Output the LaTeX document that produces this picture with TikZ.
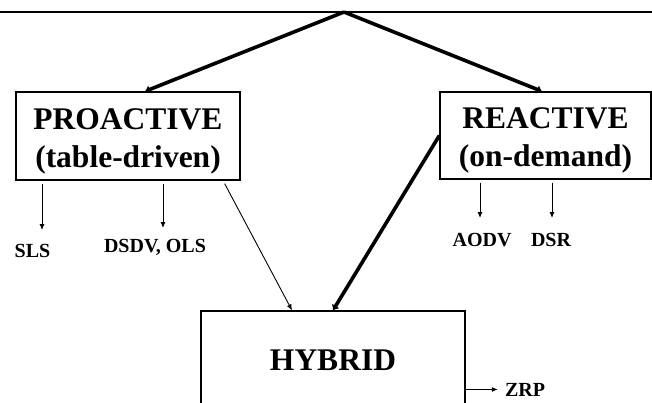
\documentclass[tikz,border=0pt]{standalone}
\usepackage{fontspec}
\setmainfont{Liberation Serif}
\usetikzlibrary{arrows.meta}
\tikzset{
	box/.style={
		draw,
		rectangle,
		align=center,
		line width=1.3pt,
		inner sep=0pt,
		font=\fontsize{31.5}{38}\selectfont\bfseries
	},
	proto/.style={
		inner sep=0pt,
		anchor=base,
		font=\fontsize{20}{24}\selectfont\bfseries
	},
	thinarrow/.style={line width=0.9pt, -{Latex[length=6pt,width=5pt]}},
	thickarrow/.style={line width=3.6pt, -{Latex[length=5pt,width=9pt]}}
}

\begin{document}
\begin{tikzpicture}[x=1pt,y=-1pt]
		\useasboundingbox (0,0) rectangle (652,403);
		\clip (0,0) rectangle (652,403);
		
		\coordinate (lineL) at (0,12);
		\coordinate (lineR) at (652,12);
		\coordinate (apex) at (344,12);
		
		\draw node[box, minimum width=224pt, minimum height=88pt] (Proactive) at (128,136) {\rule{0pt}{31pt}PROACTIVE\\(table-driven)};
		\draw node[box, minimum width=211pt, minimum height=87pt] (Reactive) at (545.5,135.5) {\rule{0pt}{31pt}REACTIVE\\(on-demand)};
		\draw node[box, minimum width=264pt, minimum height=98pt] (Hybrid) at (333,360) {HYBRID};
		
		\draw node[proto] (SLS) at (32.5,257) {SLS};
		\draw node[proto] (DSDV) at (155,252) {DSDV, OLS};
		\draw node[proto] (AODV) at (482,246) {AODV};
		\draw node[proto] (DSR) at (551,246) {DSR};
		\draw node[proto] (ZRP) at (525,396) {ZRP};
		
		\coordinate (slsEnd) at (42,230);
		\coordinate (dsdvEnd) at (163,228);
		\coordinate (aodvEnd) at (480,218);
		\coordinate (dsrEnd) at (552,218);
		
		\draw [line width=1.3pt] (lineL) -- (lineR);
		\draw [thickarrow] (apex) -- ([xshift=17pt]Proactive.north);
		\draw [thickarrow] (apex) -- ([xshift=-3.5pt]Reactive.north);
		\draw [thickarrow] (Reactive.west) -- (Hybrid.north);
		\draw [thinarrow] ([xshift=-16pt,yshift=-3pt]Proactive.south east) -- ([xshift=-41pt]Hybrid.north);
		
		\draw [thinarrow, shorten <=3pt] (Proactive.south -| slsEnd) -- (slsEnd);
		\draw [thinarrow, shorten <=3pt] (Proactive.south -| dsdvEnd) -- (dsdvEnd);
		\draw [thinarrow, shorten <=3pt] (Reactive.south -| aodvEnd) -- (aodvEnd);
		\draw [thinarrow, shorten <=3pt] (Reactive.south -| dsrEnd) -- (dsrEnd);
		\draw [thinarrow] (Hybrid.east |- ZRP.center) -- ([xshift=-7pt]ZRP.west);
	\end{tikzpicture}
\end{document}
